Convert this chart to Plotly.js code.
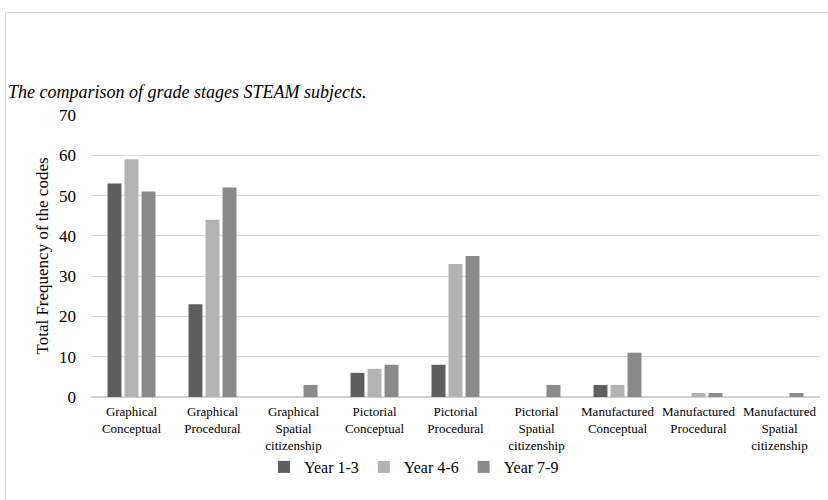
<!DOCTYPE html>
<html><head><meta charset="utf-8">
<script src="https://cdn.plot.ly/plotly-3.0.1.min.js"></script>
<style>
html,body{margin:0;padding:0;background:#fff;}
#frame{position:absolute;left:5px;top:12px;width:830px;height:500px;border:1px solid #d9d9d9;box-sizing:border-box;}
#chart{position:absolute;left:0;top:0;width:828px;height:500px;}
#chart svg text{font-family:serif !important;}
</style></head>
<body>
<div id="frame"></div>
<div id="chart"></div>
<script>
const categories = [
  "Graphical<br>Conceptual", "Graphical<br>Procedural", "Graphical<br>Spatial<br>citizenship",
  "Pictorial<br>Conceptual", "Pictorial<br>Procedural", "Pictorial<br>Spatial<br>citizenship",
  "Manufactured<br>Conceptual", "Manufactured<br>Procedural", "Manufactured<br>Spatial<br>citizenship"
];
const year13 = [53, 23, 0, 6, 8, 0, 3, 0, 0];
const year46 = [59, 44, 0, 7, 33, 0, 3, 1, 0];
const year79 = [51, 52, 3, 8, 35, 3, 11, 1, 1];
const seriesNames = ["Year 1-3", "Year 4-6", "Year 7-9"];
const colors = ["#5f5f5f", "#b3b3b3", "#8a8a8a"];
const yTicks = [0, 10, 20, 30, 40, 50, 60, 70];

const serif = "serif";
const data = [year13, year46, year79].map((v, i) => ({
  type: "bar", x: categories, y: v, name: seriesNames[i],
  marker: {color: colors[i]}, hoverinfo: "skip"
}));

const layout = {
  width: 828, height: 500,
  paper_bgcolor: "rgba(0,0,0,0)", plot_bgcolor: "rgba(0,0,0,0)",
  margin: {l: 91, r: 8, t: 115, b: 103},
  font: {family: serif, color: "#000"},
  title: {text: "<i>The comparison of grade stages STEAM subjects.</i>",
    xref: "container", yref: "container", x: 8/828, xanchor: "left",
    y: 1 - 92/500, yanchor: "middle", font: {size: 18, family: serif, color: "#000"}},
  barmode: "group", bargap: 0.37, bargroupgap: 0.18,
  xaxis: {tickfont: {size: 13, family: serif, color: "#000"}, showgrid: false, zeroline: false,
    showline: false, ticks: "", tickangle: 0, automargin: false, ticklabelstandoff: 5},
  yaxis: {range: [0, 70], tickvals: yTicks, ticktext: yTicks.map(String),
    tickfont: {size: 17, family: serif, color: "#000"}, gridcolor: "#d9d9d9", gridwidth: 1,
    zeroline: true, zerolinecolor: "#d0d0d0", zerolinewidth: 1.5,
    showline: false, ticks: "", ticklabelstandoff: 14, automargin: false,
    title: {text: "Total Frequency of the codes", font: {size: 17, family: serif, color: "#000"}, standoff: 6}},
  legend: {orientation: "h", x: 0.5, xanchor: "center", xref: "container",
    y: 1 - 467/500, yref: "container", yanchor: "middle",
    font: {size: 16, family: serif, color: "#000"}, itemwidth: 30, traceorder: "normal"},
  showlegend: true
};
Plotly.newPlot("chart", data, layout, {displayModeBar: false, staticPlot: true});
</script>
</body></html>
